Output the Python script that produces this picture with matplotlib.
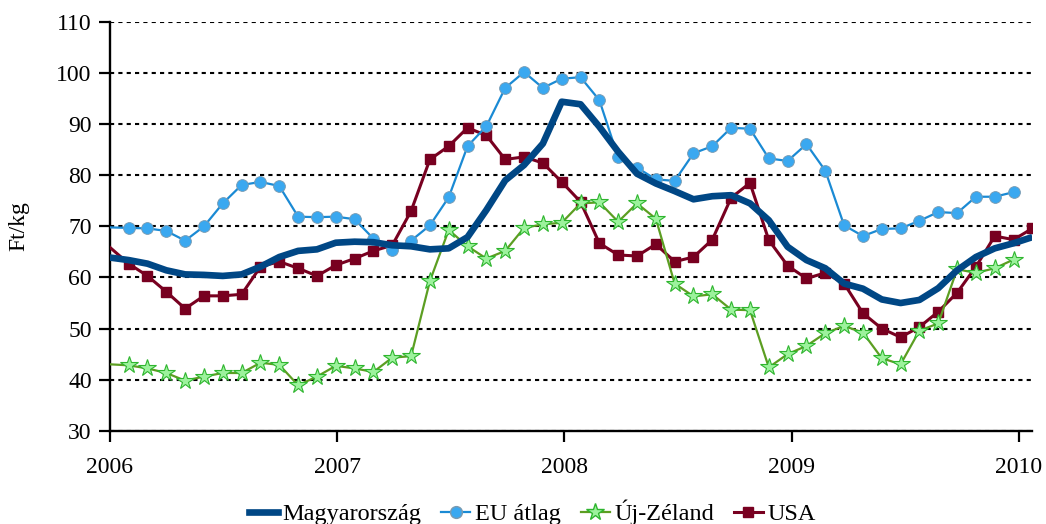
import numpy as np
import matplotlib.pyplot as plt
from matplotlib.lines import Line2D

# monthly points, index 0 = start of 2006
hu = [63.9, 63.4, 62.7, 61.4, 60.6, 60.5, 60.3, 60.6, 62.1, 64.0, 65.2, 65.5,
      66.8, 67.0, 66.9, 66.3, 66.1, 65.5, 65.7, 67.9, 73.2, 79.0, 82.0, 86.2,
      94.4, 93.9, 89.5, 84.6, 80.3, 78.4, 76.9, 75.3, 75.9, 76.1, 74.5, 71.2,
      66.0, 63.4, 61.8, 58.8, 57.8, 55.7, 55.0, 55.6, 57.9, 61.4, 64.0, 65.7,
      66.7, 67.9]
eu = [69.8, 69.7, 69.6, 69.1, 67.2, 70.0, 74.5, 78.1, 78.7, 77.9, 71.9, 71.8,
      71.9, 71.4, 67.6, 65.3, 67.2, 70.2, 75.7, 85.7, 89.6, 97.1, 100.2, 97.1,
      98.9, 99.2, 94.7, 83.5, 81.5, 79.2, 78.9, 84.3, 85.7, 89.3, 89.1, 83.3,
      82.8, 86.1, 80.9, 70.2, 68.1, 69.5, 69.6, 71.1, 72.8, 72.6, 75.8, 75.8,
      76.7]
nz = [43.0, 42.8, 42.2, 41.3, 39.8, 40.6, 41.3, 41.3, 43.3, 42.9, 38.9, 40.6,
      42.7, 42.2, 41.5, 44.3, 44.6, 59.3, 69.3, 66.1, 63.7, 65.2, 69.7, 70.4,
      70.7, 74.5, 74.7, 70.9, 74.5, 71.5, 58.8, 56.3, 56.7, 53.7, 53.6, 42.4,
      45.0, 46.6, 49.1, 50.5, 49.2, 44.2, 43.0, 49.6, 51.0, 61.6, 60.9, 61.8,
      63.5]
usa = [65.9, 62.7, 60.3, 57.2, 53.9, 56.4, 56.4, 56.7, 62.1, 63.1, 61.8, 60.3,
       62.4, 63.7, 65.2, 66.3, 73.0, 83.1, 85.7, 89.3, 87.8, 83.1, 83.6, 82.4,
       78.7, 74.8, 66.7, 64.4, 64.2, 66.5, 63.1, 64.0, 67.4, 75.6, 78.5, 67.3,
       62.3, 59.8, 60.9, 58.8, 53.0, 50.0, 48.3, 50.3, 53.3, 57.0, 62.1, 68.1,
       67.4, 69.6]
years = ['2006', '2007', '2008', '2009', '2010']
pts_per_year = 12.07

plt.rcParams['font.family'] = ['Liberation Serif', 'DejaVu Serif']

fig = plt.figure(figsize=(10.46, 5.24), dpi=100)
ax = fig.add_axes([0.105, 0.178, 0.882, 0.780])

hu_c = '#004785'
eu_c = '#1a8ad4'
nz_c = '#5c9e22'
usa_c = '#780020'

ax.plot(np.arange(len(usa)), usa, color=usa_c, lw=2.2, marker='s', ms=6.5,
        mfc=usa_c, mec=usa_c, markevery=slice(1, None), zorder=3)
ax.plot(np.arange(len(nz)), nz, color=nz_c, lw=1.6, marker='*', ms=13,
        mfc='#9cf29c', mec='#2fb52f', mew=0.8, markevery=slice(1, None), zorder=4)
ax.plot(np.arange(len(eu)), eu, color=eu_c, lw=1.6, marker='o', ms=8.5,
        mfc='#3aa8f0', mec='#7a9ab0', mew=0.6, markevery=slice(1, None), zorder=5)
ax.plot(np.arange(len(hu)), hu, color=hu_c, lw=4.8, zorder=6,
        solid_capstyle='butt')

ax.set_xlim(0, 49)
ax.set_ylim(30, 110)
ax.set_yticks(np.arange(30, 111, 10))
ax.set_xticks(np.arange(len(years)) * pts_per_year)
ax.set_xticklabels(years)
ax.tick_params(labelsize=17, length=8, width=1.6, direction='out')
ax.tick_params(axis='x', pad=11)
ax.tick_params(axis='y', pad=5)
ax.yaxis.grid(True, color='black', linestyle=(0, (2, 2)), linewidth=1.5)
ax.set_axisbelow(True)
for s in ['top', 'right']:
    ax.spines[s].set_visible(False)
for s in ['left', 'bottom']:
    ax.spines[s].set_linewidth(1.7)
ax.set_ylabel('Ft/kg', fontsize=17)
ax.yaxis.set_label_coords(-0.087, 0.5)

handles = [
    Line2D([], [], color=hu_c, lw=4.8),
    Line2D([], [], color=eu_c, lw=1.6, marker='o', ms=8.5, mfc='#3aa8f0', mec='#7a9ab0'),
    Line2D([], [], color=nz_c, lw=1.6, marker='*', ms=13, mfc='#9cf29c', mec='#2fb52f'),
    Line2D([], [], color=usa_c, lw=2.2, marker='s', ms=7, mfc=usa_c, mec=usa_c),
]
fig.legend(handles, ['Magyarország', 'EU átlag', 'Új-Zéland', 'USA'],
           loc='center', bbox_to_anchor=(0.509, 0.022), ncol=4, frameon=False,
           fontsize=17.5, handlelength=1.2, handletextpad=0.2, columnspacing=0.8)

fig.savefig('out.png', dpi=100)
